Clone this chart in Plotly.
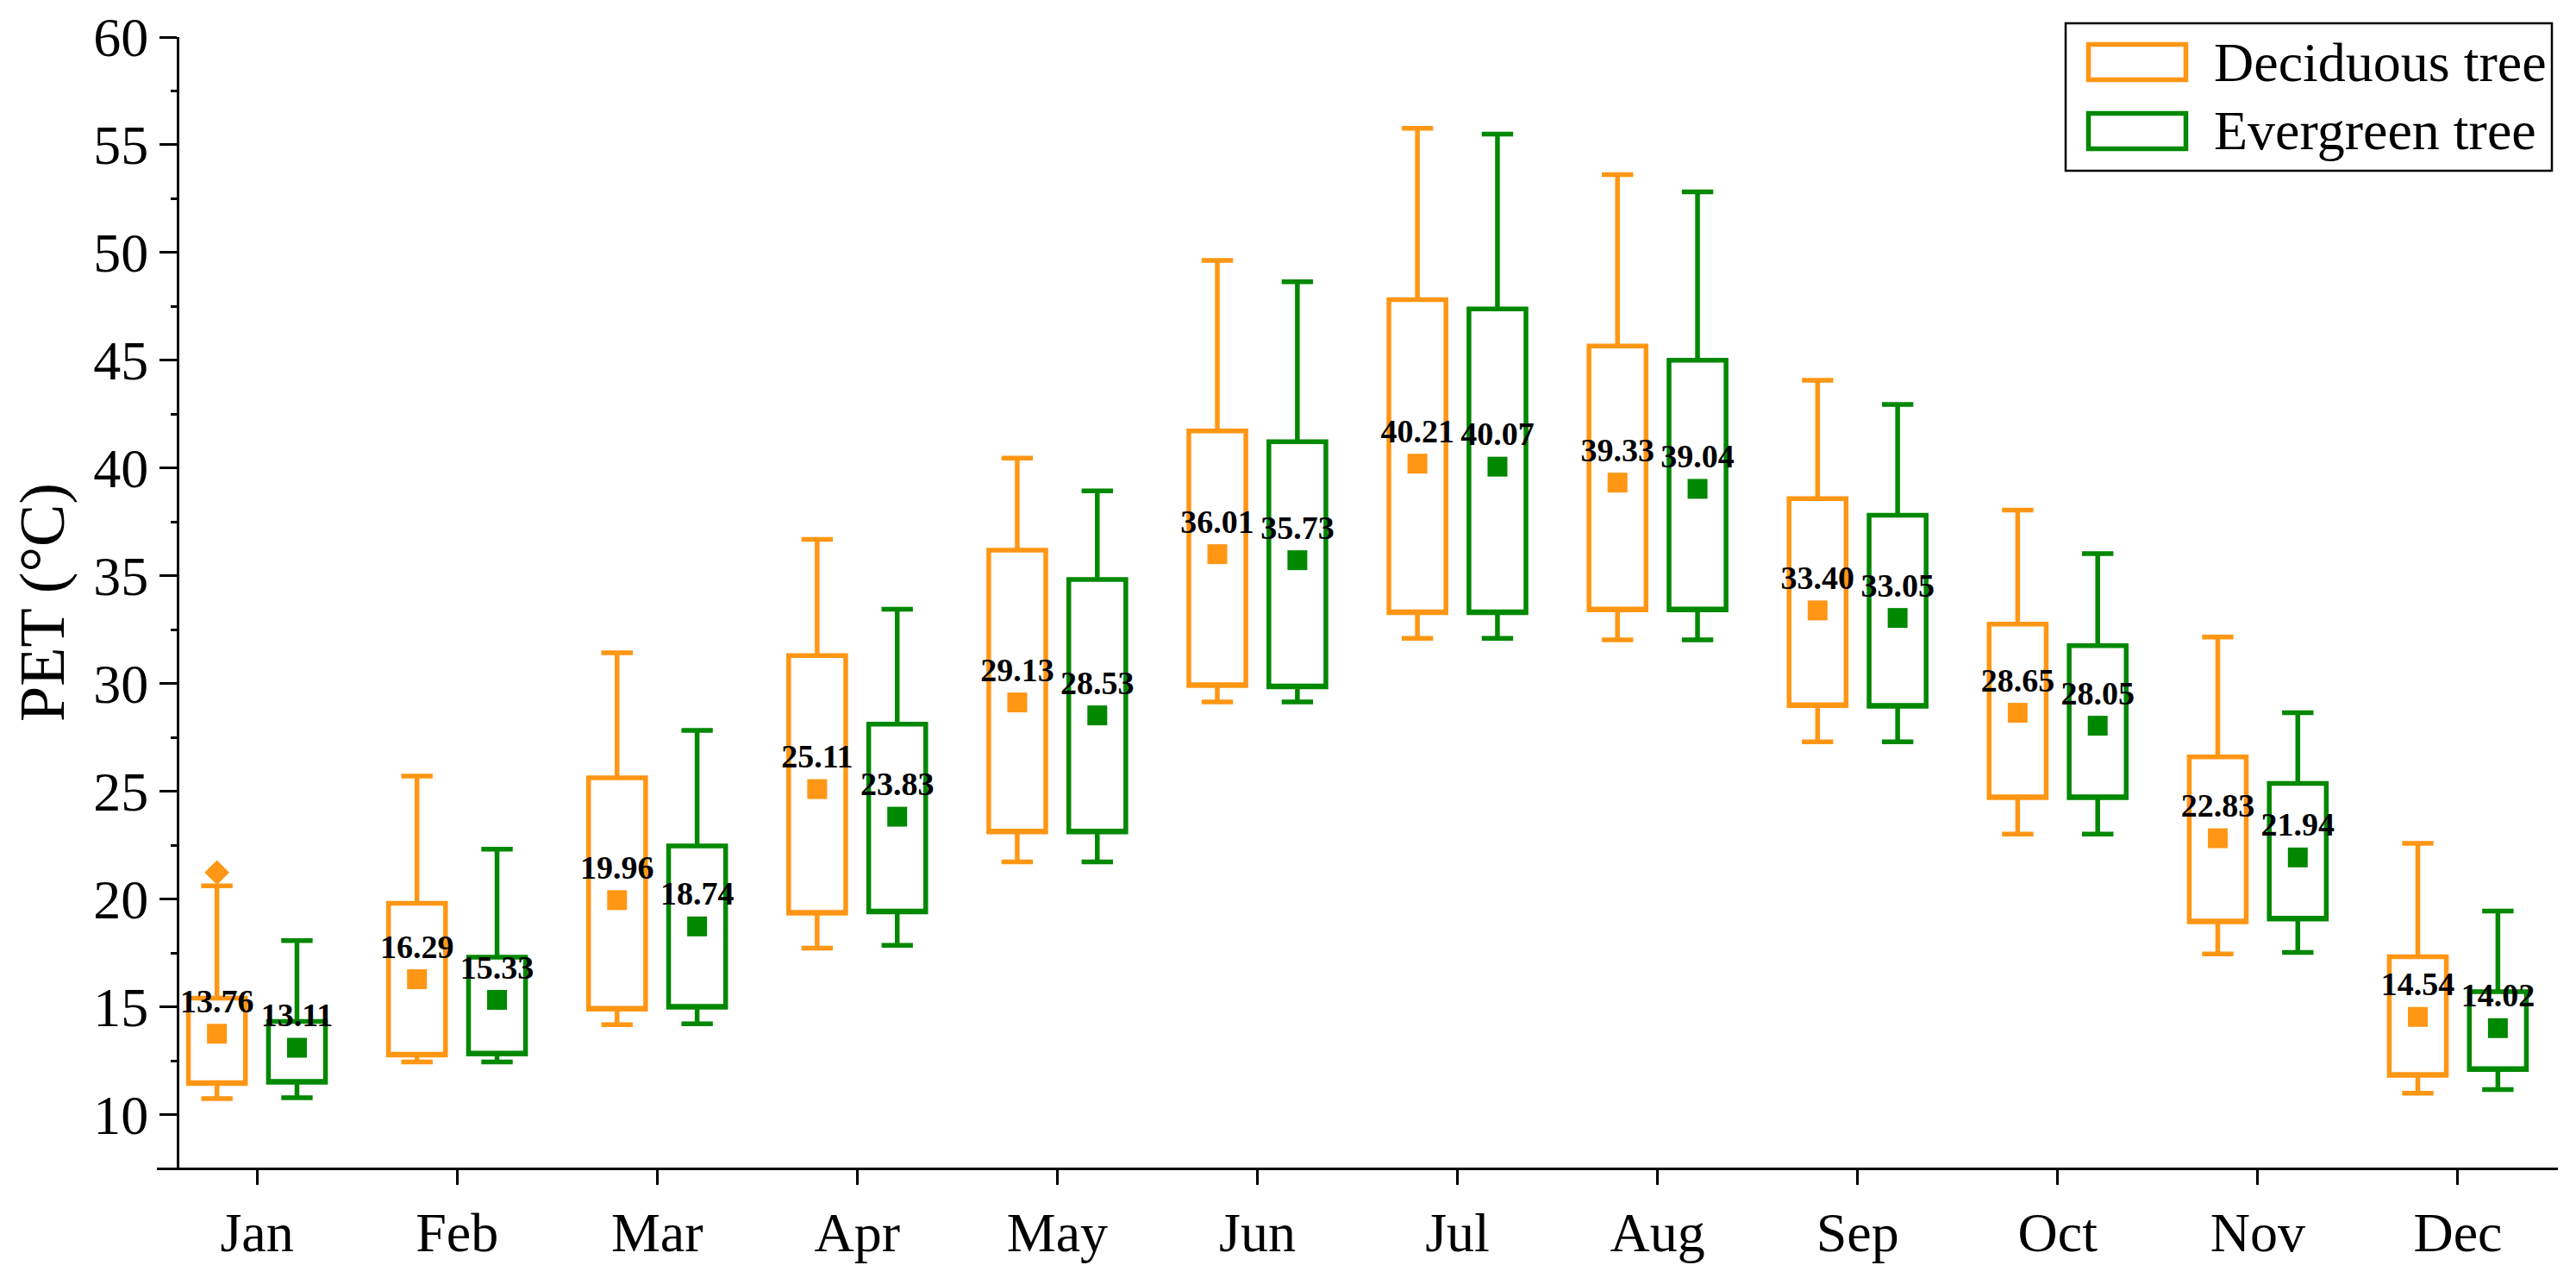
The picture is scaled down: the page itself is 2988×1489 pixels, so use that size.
import plotly.graph_objects as go

# ---------------- data ----------------
months = ["Jan", "Feb", "Mar", "Apr", "May", "Jun", "Jul", "Aug", "Sep", "Oct", "Nov", "Dec"]

dec_lo = [10.75, 12.45, 14.18, 17.73, 21.73, 29.15, 32.10, 32.03, 27.30, 23.02, 17.46, 11.00]
dec_q1 = [11.45, 12.77, 14.90, 19.35, 23.12, 29.91, 33.29, 33.42, 28.98, 24.71, 18.95, 11.83]
dec_q3 = [15.41, 19.81, 25.63, 31.30, 36.20, 41.73, 47.82, 45.67, 38.59, 32.76, 26.60, 17.33]
dec_hi = [20.62, 25.71, 31.43, 36.70, 40.47, 49.64, 55.77, 53.62, 44.08, 38.06, 32.16, 22.59]
dec_mean = [13.76, 16.29, 19.96, 25.11, 29.13, 36.01, 40.21, 39.33, 33.40, 28.65, 22.83, 14.54]

eve_lo = [10.79, 12.45, 14.22, 17.86, 21.73, 29.15, 32.10, 32.03, 27.30, 23.02, 17.53, 11.17]
eve_q1 = [11.51, 12.82, 14.99, 19.41, 23.12, 29.85, 33.29, 33.42, 28.95, 24.71, 19.08, 12.10]
eve_q3 = [14.33, 17.31, 22.47, 28.12, 34.84, 41.23, 47.39, 45.01, 37.82, 31.76, 25.37, 15.71]
eve_hi = [18.08, 22.32, 27.83, 33.45, 38.95, 48.65, 55.50, 52.82, 42.96, 36.04, 28.65, 19.45]
eve_mean = [13.11, 15.33, 18.74, 23.83, 28.53, 35.73, 40.07, 39.04, 33.05, 28.05, 21.94, 14.02]

outlier_month = ["Jan"]
outlier_value = [21.24]

series_names = ["Deciduous tree", "Evergreen tree"]
y_ticks = [10, 15, 20, 25, 30, 35, 40, 45, 50, 55, 60]

# ---------------- style ----------------
ORANGE = "#FF9614"
GREEN = "#008800"
FONT = "Liberation Serif"
W, H = 2988, 1489
ML, MR, MT, MB = 182, 21, 43, 135
PW, PH = W - ML - MR, H - MT - MB
OFFSET = 0.2
BOXW = 0.285

def px_x(p):
    return (p - ML) / PW

def px_y(p):
    return (H - MB - p) / PH

idx = list(range(len(months)))
mi = {m: i for i, m in enumerate(months)}

fig = go.Figure()

for name, col, off, lo, q1, q3, hi, mean in [
    (series_names[0], ORANGE, -OFFSET, dec_lo, dec_q1, dec_q3, dec_hi, dec_mean),
    (series_names[1], GREEN, OFFSET, eve_lo, eve_q1, eve_q3, eve_hi, eve_mean),
]:
    xs = [i + off for i in idx]
    fig.add_trace(go.Box(
        name=name, x=xs, q1=q1, median=q1, q3=q3,
        lowerfence=lo, upperfence=hi,
        width=BOXW, whiskerwidth=0.55,
        line=dict(color=col, width=5.5),
        fillcolor="rgba(0,0,0,0)",
        boxpoints=False, showlegend=False, hoverinfo="skip",
    ))
    fig.add_trace(go.Scatter(
        x=xs, y=mean, mode="markers+text",
        marker=dict(symbol="square", size=23, color=col),
        text=[f"{v:.2f}" for v in mean], textposition="top center",
        textfont=dict(family=FONT, size=38, color="black", weight="bold"),
        showlegend=False, hoverinfo="skip",
    ))

fig.add_trace(go.Scatter(
    x=[mi[m] - OFFSET for m in outlier_month], y=outlier_value, mode="markers",
    marker=dict(symbol="diamond", size=22, color=ORANGE),
    showlegend=False, hoverinfo="skip",
))

# ---------------- custom legend ----------------
shapes = [dict(type="rect", xref="paper", yref="paper",
               x0=px_x(2396), x1=px_x(2960), y0=px_y(198), y1=px_y(27),
               line=dict(color="black", width=2.5), fillcolor="white", layer="above")]
annotations = []
for k, (name, col) in enumerate(zip(series_names, [ORANGE, GREEN])):
    cy = 72 + 80 * k
    shapes.append(dict(type="rect", xref="paper", yref="paper",
                       x0=px_x(2422.5), x1=px_x(2535.5),
                       y0=px_y(cy + 20.5), y1=px_y(cy - 20.5),
                       line=dict(color=col, width=5.5), layer="above"))
    annotations.append(dict(xref="paper", yref="paper", x=px_x(2566), y=px_y(cy),
                            xanchor="left", yanchor="middle", showarrow=False,
                            text=name, font=dict(family=FONT, size=64, color="black")))

fig.update_layout(
    width=W, height=H,
    margin=dict(l=ML, r=MR, t=MT, b=MB, autoexpand=False),
    plot_bgcolor="white", paper_bgcolor="white",
    font=dict(family=FONT, color="black"),
    shapes=shapes, annotations=annotations,
    showlegend=False,
    xaxis=dict(
        domain=[0, 1], range=[-0.5, 11.5],
        tickmode="array", tickvals=idx, ticktext=months,
        ticks="outside", ticklen=17, tickwidth=3, tickcolor="black",
        showline=True, linewidth=3, linecolor="black",
        showgrid=False, zeroline=False,
        tickfont=dict(family=FONT, size=64, color="black"),
        automargin=False,
    ),
    yaxis=dict(
        range=[7.55, 60], anchor="free", position=px_x(206),
        tickmode="array", tickvals=y_ticks,
        ticks="outside", ticklen=20, tickwidth=3, tickcolor="black",
        minor=dict(ticks="outside", ticklen=7, tickwidth=3, tickcolor="black",
                   dtick=2.5, tick0=0),
        showline=True, linewidth=3, linecolor="black",
        showgrid=False, zeroline=False,
        tickfont=dict(family=FONT, size=64, color="black"),
        title=dict(text="PET (°C)", font=dict(family=FONT, size=74, color="black"), standoff=8),
        automargin=False,
    ),
)

fig.write_html("out.html", config={"displayModeBar": False},
               post_script="document.body.style.margin='0';document.body.style.overflow='hidden';")
